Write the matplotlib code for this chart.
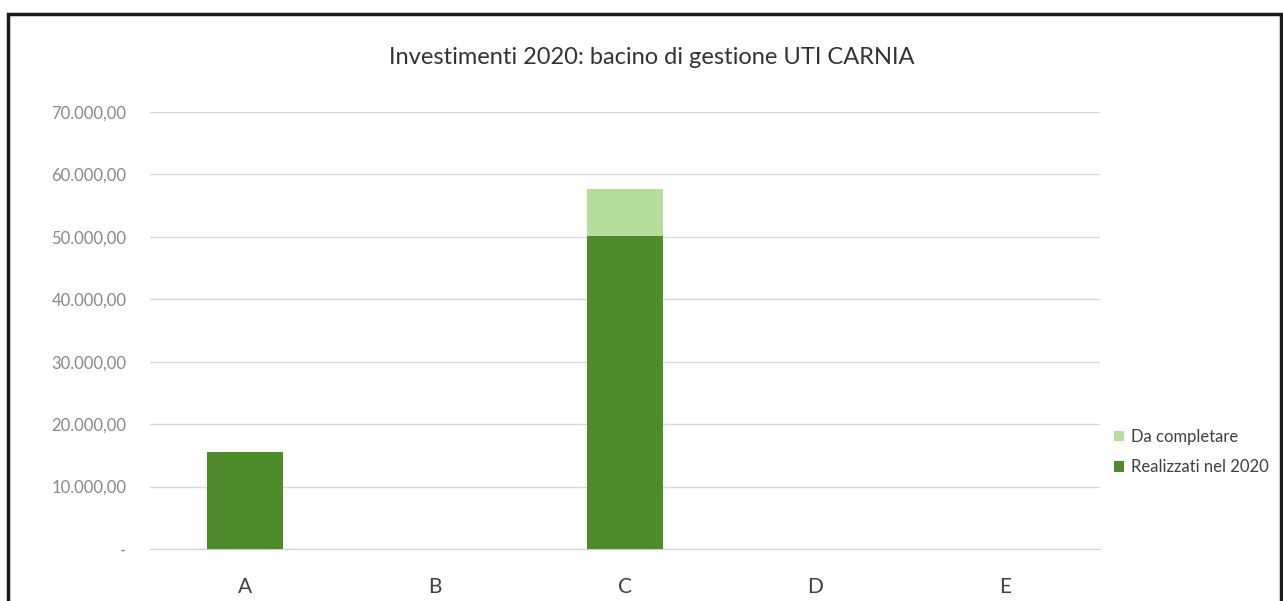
import matplotlib
matplotlib.use("Agg")
import numpy as np
from matplotlib import pyplot as plt
from matplotlib.patches import Rectangle

categories = ["A", "B", "C", "D", "E"]
realizzati = [15600, 0, 50200, 0, 0]
da_completare = [0, 0, 7500, 0, 0]
yticks = [0, 10000, 20000, 30000, 40000, 50000, 60000, 70000]
ytick_labels = ["-", "10.000,00", "20.000,00", "30.000,00", "40.000,00",
                "50.000,00", "60.000,00", "70.000,00"]

dark_green = "#4f8a2b"
light_green = "#b5dd9c"

plt.rcParams['font.family'] = ['Lato', 'DejaVu Sans']

fig = plt.figure(figsize=(12.83, 6.01), dpi=100)
ax = fig.add_axes([150/1283, 1 - 549/601, 950/1283, (549 - 112)/601])

x = np.arange(len(categories))
ax.bar(x, realizzati, width=0.4, color=dark_green, label="Realizzati nel 2020", zorder=3)
ax.bar(x, da_completare, width=0.4, bottom=realizzati, color=light_green,
       label="Da completare", zorder=3)

ax.set_xlim(-0.5, len(categories) - 0.5)
ax.set_ylim(0, 70000)
ax.set_yticks(yticks)
ax.set_yticklabels(ytick_labels, fontsize=12, color="#888888")
ax.set_xticks(x)
ax.set_xticklabels(categories, fontsize=15, color="#404040")
ax.tick_params(axis="y", length=0, pad=17)
ax.tick_params(axis="x", length=0, pad=20)
ax.grid(axis="y", color="#d9d9d9", linewidth=1, zorder=0)
for s in ["top", "right", "left"]:
    ax.spines[s].set_visible(False)
ax.spines["bottom"].set_color("#d0d0d0")

fig.text(652/1283, 1 - 57/601, "Investimenti 2020: bacino di gestione UTI CARNIA",
         ha="center", va="center", fontsize=17, color="#333333")

handles, labels = ax.get_legend_handles_labels()
leg = fig.legend(handles[::-1], labels[::-1], loc="upper left",
                 bbox_to_anchor=(1099/1283, 1 - 414/601), frameon=False,
                 fontsize=12, handlelength=0.6, handleheight=0.6,
                 handletextpad=0.4, labelspacing=0.85, labelcolor="#404040")

# outer frame
fig.patches.append(Rectangle((8/1283, -0.05), 1273/1283, 1 - 14/601 + 0.05,
                             transform=fig.transFigure, fill=False,
                             edgecolor="#1a1a1a", linewidth=2.5))

plt.savefig("out.png", dpi=100)
